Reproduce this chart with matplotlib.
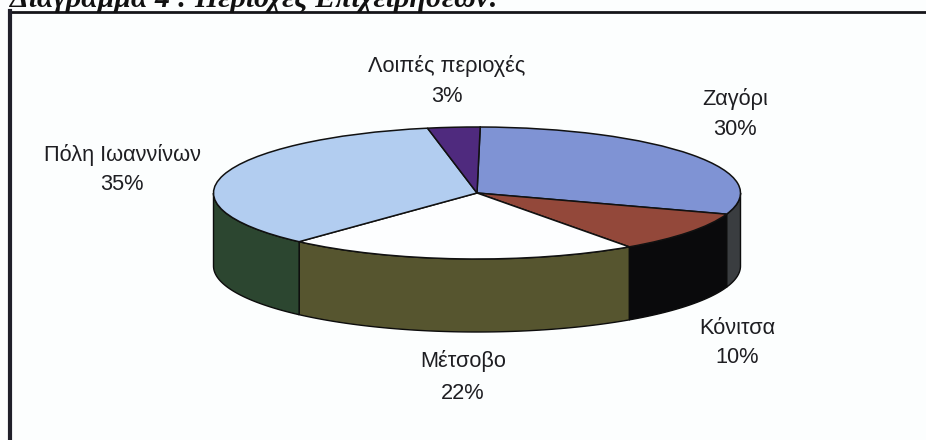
import numpy as np
import matplotlib
matplotlib.use("Agg")
import matplotlib.pyplot as plt
from matplotlib.lines import Line2D

categories = ["Ζαγόρι", "Κόνιτσα", "Μέτσοβο", "Πόλη Ιωαννίνων", "Λοιπές περιοχές"]
values = [30, 10, 21.6, 35.2, 3.2]
tick_labels = ["30%", "10%", "22%", "35%", "3%"]
top_colors = ["#7f93d4", "#93483a", "#fdfeff", "#b2cdf0", "#4f2a7e"]
side_colors = ["#3a3d40", "#0a0a0c", "#56552f", "#2c4630", "#2a1540"]
title = "Διάγραμμα 4 : Περιοχές Επιχειρήσεων:"

W, H = 926, 440
CX, CY, RX, RY, DEPTH = 477, 193, 263.5, 66, 73
START_DEG = 0.7
BG = "#fcfefe"

fig = plt.figure(figsize=(W / 100, H / 100), dpi=100, facecolor=BG)
ax = fig.add_axes([0, 0, 1, 1])

ax.pie(values, colors=top_colors, startangle=90 - START_DEG, counterclock=False,
       radius=1, center=(0, 0),
       wedgeprops=dict(edgecolor="#111111", linewidth=1.1), normalize=True, frame=False)
ax.set_aspect("auto")
ax.set_xlim((0 - CX) / RX, (W - CX) / RX)
ax.set_ylim((CY - H) / RY, CY / RY)
ax.axis("off")

# side walls, derived from the slice values (front half of the ellipse only)
d = DEPTH / RY
edges = np.cumsum([0] + values) / sum(values) * 360 + START_DEG
for a0, a1, col in zip(edges[:-1], edges[1:], side_colors):
    lo, hi = max(a0, 90), min(a1, 270)
    if hi <= lo:
        continue
    t = np.radians(np.linspace(lo, hi, 80))
    x, y = np.sin(t), np.cos(t)
    ax.fill(np.r_[x, x[::-1]], np.r_[y, y[::-1] - d], facecolor=col,
            edgecolor="#0c0c0c", linewidth=1.0, zorder=0.5)


def px(x, y):
    return x / W, 1 - y / H


label_pos = [(735, 99), (737, 328), (463, 361), (122, 155), (447, 66)]
pct_pos = [(735, 129), (737, 357), (463, 393), (122, 185), (447, 96)]
for name, pct, p, q in zip(categories, tick_labels, label_pos, pct_pos):
    fig.text(*px(*p), name, ha="center", va="center", fontsize=15.7,
             family="Liberation Sans", color="#1e1e22")
    fig.text(*px(*q), pct, ha="center", va="center", fontsize=15.7,
             family="Liberation Sans", color="#1e1e22")

# picture frame (top and left only)
fig.add_artist(Line2D([10 / W, 1], [1 - 12 / H] * 2, color="#15151a", lw=2.0))
fig.add_artist(Line2D([10 / W] * 2, [1 - 11 / H, 0], color="#20202a", lw=3.0))

# title line, cut off by the top edge in the reference
fig.text(10 / W, 1 - 7 / H, title, ha="left", va="baseline", fontsize=21.5,
         family="Liberation Serif", style="italic", weight="bold", color="#111111")

fig.savefig("out.png", dpi=100, facecolor=BG)
